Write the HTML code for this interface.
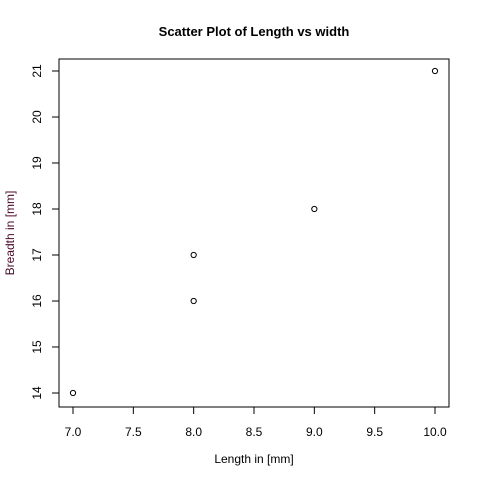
<!DOCTYPE html>
<html><head><meta charset="utf-8"><style>
body{margin:0;background:#fff}
svg{display:block;font-family:"Liberation Sans",Arial,sans-serif}
</style></head><body>
<svg id="chart" width="480" height="480" viewBox="0 0 480 480">
<rect width="480" height="480" fill="#fff"/>
<text x="254" y="36" text-anchor="middle" font-size="13" font-weight="bold">Scatter Plot of Length vs width</text>
<rect x="59" y="59" width="390" height="348" fill="none" stroke="#000" stroke-width="1"/>
<text x="254" y="463" text-anchor="middle" font-size="12">Length in [mm]</text>
<text transform="translate(14,233) rotate(-90)" text-anchor="middle" font-size="12" fill="#4a0a2a">Breadth in [mm]</text>
<g id="xaxis"></g>
<g id="yaxis"></g>
<g id="points"></g>
</svg>
<script>
const xValues=[7,8,8,9,10];
const yValues=[14,16,17,18,21];
const xTicks=[7.0,7.5,8.0,8.5,9.0,9.5,10.0];
const yTicks=[14,15,16,17,18,19,20,21];
const NS="http://www.w3.org/2000/svg";
function sx(v){return 73+(v-7)*(435-73)/3;}
function sy(v){return 393-(v-14)*(393-71)/7;}
function mk(t,a,p){const e=document.createElementNS(NS,t);for(const k in a)e.setAttribute(k,a[k]);p.appendChild(e);return e;}
const xa=document.getElementById('xaxis'),ya=document.getElementById('yaxis'),pts=document.getElementById('points');
mk('line',{x1:sx(7),x2:sx(10),y1:407,y2:407,stroke:'#000'},xa);
xTicks.forEach(v=>{
 const l=mk('line',{x1:sx(v),x2:sx(v),y1:407,y2:414,stroke:'#000'},xa);
 
 
 const t=mk('text',{x:sx(v),y:436,'text-anchor':'middle','font-size':12},xa);
 t.textContent=v.toFixed(1);
 
 
});
mk('line',{x1:59,x2:59,y1:sy(14),y2:sy(21),stroke:'#000'},ya);
yTicks.forEach(v=>{
 const l=mk('line',{x1:52,x2:59,y1:sy(v),y2:sy(v),stroke:'#000'},ya);
 
 
 const t=mk('text',{transform:`translate(41,${sy(v)}) rotate(-90)`,'text-anchor':'middle','font-size':12},ya);
 t.textContent=String(v);
 
 
});
xValues.forEach((x,i)=>{
 const c=mk('circle',{cx:sx(x),cy:sy(yValues[i]),r:2.6,fill:'none',stroke:'#000','stroke-width':1},pts);
 
 
});
</script>
</body></html>
